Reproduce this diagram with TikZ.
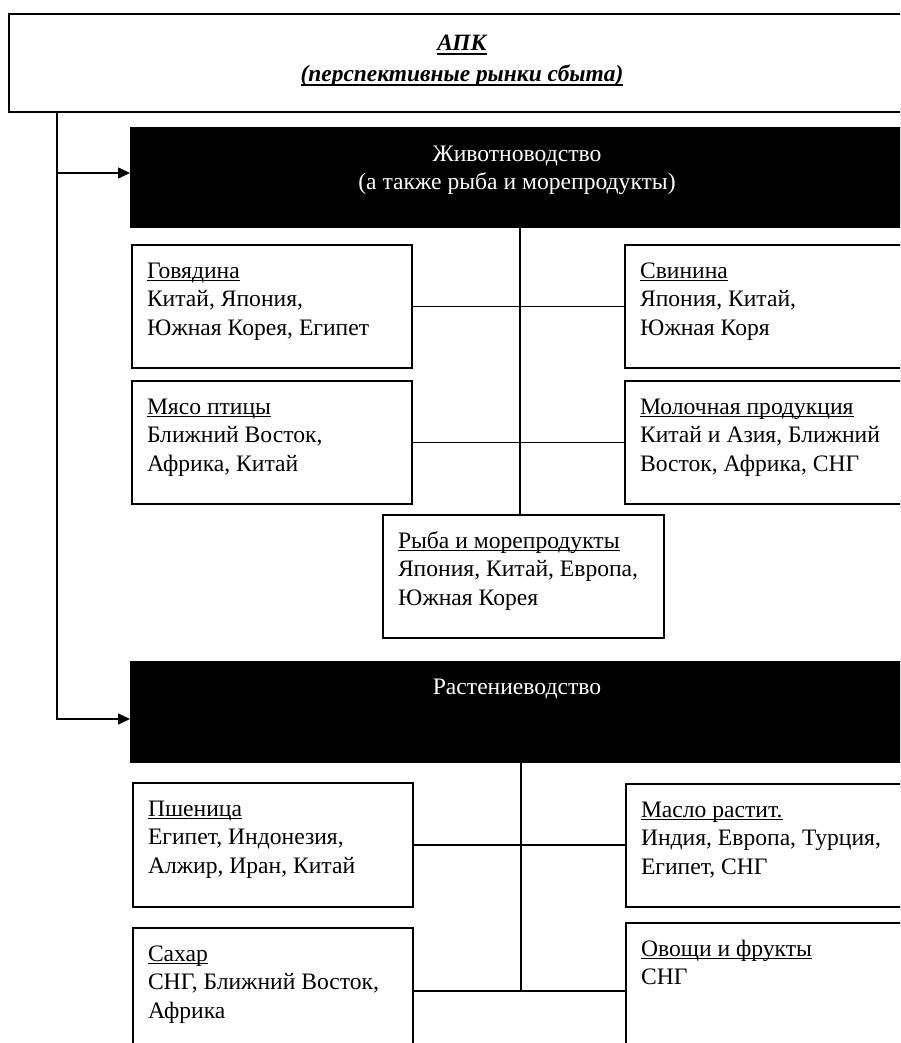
\documentclass[tikz,border=0pt]{standalone}
\usepackage{fontspec}
\setmainfont{Liberation Serif}
\usetikzlibrary{arrows.meta,calc}
\newlength\ulw
\newcommand\ul[1]{\leavevmode\settowidth\ulw{#1}\rlap{\rule[-3pt]{\ulw}{1.3pt}}#1}
\newcommand\tul[1]{\leavevmode\settowidth\ulw{#1}\rlap{\rule[-4pt]{\ulw}{2pt}}#1}
\newcommand\bt[5]{\vbox to #2pt{\hsize=#1pt\parindent=0pt\baselineskip=#4pt\lineskiplimit=-100pt\lineskip=0pt\hbox{}\kern\dimexpr#3pt-#4pt\relax\leavevmode #5\par\vfil}}
\tikzset{
  bodyfont/.style={font=\fontsize{23.6}{28.5}\selectfont},
  cbox/.style={draw, line width=1.5pt, anchor=north west, inner xsep=15pt, inner ysep=0pt, outer sep=0pt, bodyfont},
  blk/.style={fill=black, draw=black, anchor=north west, inner sep=0pt, outer sep=0pt, text=white, bodyfont},
  ttl/.style={draw, line width=2.2pt, anchor=north west, inner sep=0pt, outer sep=0pt, font=\fontsize{23.4}{30}\selectfont\bfseries\itshape},
  con/.style={line width=1.5pt},
  arr/.style={line width=1.5pt, -{Triangle[length=12pt,width=11pt]}}
}
\begin{document}
\begin{tikzpicture}[x=1pt,y=-1pt]
\useasboundingbox (0,0) rectangle (900,1043);
\clip (0,0) rectangle (900,1043);
% title
\node[ttl] (top) at (9,14) {\bt{906}{98}{37}{31}{\centering\tul{АПК}\\\tul{(перспективные рынки сбыта)}}};
% black headers
\node[blk] (blk1) at (130,127) {\bt{774}{100}{34}{28}{\centering Животноводство\\(а также рыба и морепродукты)}};
\node[blk] (blk2) at (130,661) {\bt{774}{101}{33}{28}{\centering Растениеводство}};
% livestock boxes
\node[cbox] (gov) at (132,245) {\bt{250}{123}{33}{28.5}{\ul{Говядина}\\Китай, Япония,\\Южная Корея, Египет}};
\node[cbox] (svin) at (625,245) {\bt{260}{123}{33}{28.5}{\ul{Свинина}\\Япония, Китай,\\Южная Коря}};
\node[cbox] (myaso) at (132,381) {\bt{250}{123}{33}{28.5}{\ul{Мясо птицы}\\Ближний Восток,\\Африка, Китай}};
\node[cbox] (moloch) at (625,381) {\bt{260}{123}{33}{28.5}{\ul{Молочная продукция}\\Китай и Азия, Ближний\\Восток, Африка, СНГ}};
\node[cbox] (ryba) at (383,515) {\bt{251}{123}{33}{28.5}{\ul{Рыба и морепродукты}\\Япония, Китай, Европа,\\Южная Корея}};
% crop boxes
\node[cbox] (psh) at (133,783) {\bt{250}{124}{33}{28.5}{\ul{Пшеница}\\Египет, Индонезия,\\Алжир, Иран, Китай}};
\node[cbox] (maslo) at (626,784) {\bt{259}{123}{33}{28.5}{\ul{Масло растит.}\\Индия, Европа, Турция,\\Египет, СНГ}};
\node[cbox] (sah) at (133,928) {\bt{250}{126}{33}{28.5}{\ul{Сахар}\\СНГ, Ближний Восток,\\Африка}};
\node[cbox] (ovo) at (626,923) {\bt{259}{136}{33}{28.5}{\ul{Овощи и фрукты}\\СНГ}};
% helper coordinates
\coordinate (j1) at (57,173);
\coordinate (cx1) at (520,0);
\coordinate (cx2) at (521,0);
% left trunk and arrows
\draw[con] (top.south west -| j1) -- (j1);
\draw[arr] (j1) -- (j1 -| blk1.west);
\draw[arr] (j1) |- ([yshift=-58pt]blk2.north west);
% livestock connectors
\draw[con] (blk1.south -| cx1) -- (ryba.north -| cx1);
\draw[con] (gov.east) -- (svin.west);
\draw[con] (myaso.east) -- (moloch.west);
% crop connectors
\draw[con] (blk2.south -| cx2) -- (sah.east -| cx2);
\draw[con] (psh.east) -- (psh.east -| maslo.west);
\draw[con] (sah.east) -- (sah.east -| ovo.west);
\end{tikzpicture}
\end{document}
